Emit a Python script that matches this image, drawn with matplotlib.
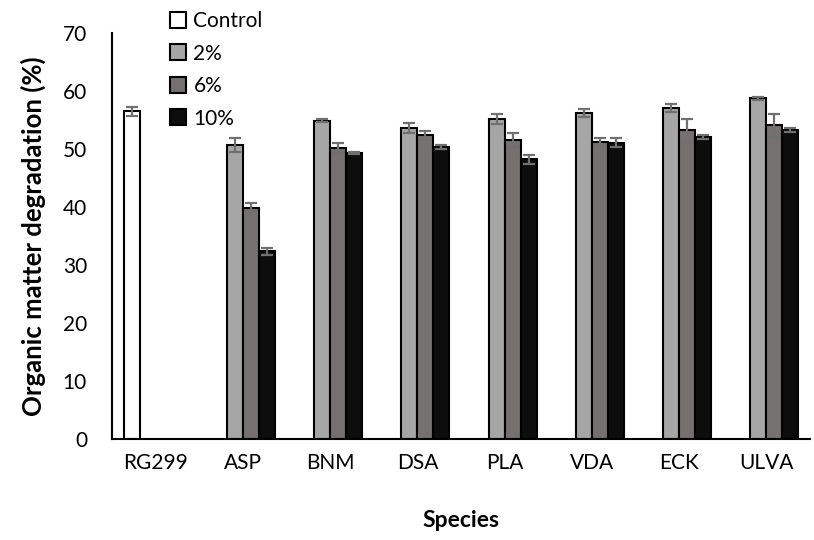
import numpy as np
import matplotlib.pyplot as plt

# Data
species = ['RG299', 'ASP', 'BNM', 'DSA', 'PLA', 'VDA', 'ECK', 'ULVA']
control = [56.5, np.nan, np.nan, np.nan, np.nan, np.nan, np.nan, np.nan]
control_err = [0.8, 0, 0, 0, 0, 0, 0, 0]
pct2 = [np.nan, 50.7, 54.9, 53.6, 55.2, 56.2, 57.0, 58.7]
pct2_err = [0, 1.2, 0.3, 0.8, 0.9, 0.7, 0.7, 0.3]
pct6 = [np.nan, 39.9, 50.2, 52.4, 51.5, 51.2, 53.2, 54.1]
pct6_err = [0, 0.7, 0.9, 0.7, 1.2, 0.7, 2.0, 2.0]
pct10 = [np.nan, 32.4, 49.3, 50.3, 48.2, 51.1, 52.1, 53.3]
pct10_err = [0, 0.6, 0.2, 0.3, 0.8, 0.8, 0.3, 0.3]

series = [('Control', control, control_err, 'white'),
          ('2%', pct2, pct2_err, '#a6a6a6'),
          ('6%', pct6, pct6_err, '#767171'),
          ('10%', pct10, pct10_err, '#0d0d0d')]

plt.rcParams['font.family'] = ['Lato', 'DejaVu Sans']

fig = plt.figure(figsize=(8.14, 5.40), dpi=100)
ax = fig.add_axes([0.1376, 0.187, 0.8575, 0.752])

x = np.arange(len(species))
w = 0.184
handles = []
for i, (name, vals, errs, col) in enumerate(series):
    pos = x + (i - 1.5) * w
    b = ax.bar(pos, vals, width=w, color=col, edgecolor='black', linewidth=1.5,
               label=name, zorder=2)
    handles.append(b)
    v = np.array(vals, dtype=float)
    m = ~np.isnan(v)
    ax.errorbar(pos[m], v[m], yerr=np.array(errs)[m], fmt='none', ecolor='#707070',
                elinewidth=1.6, capsize=4.5, capthick=1.6, zorder=3)

ax.set_xlim(-0.5, len(species) - 0.5)
ax.set_ylim(0, 70)
ax.set_yticks(range(0, 71, 10))
ax.set_xticks(x)
ax.set_xticklabels(species)
ax.tick_params(axis='both', length=0, labelsize=15, colors='black', pad=10)
ax.tick_params(axis='y', pad=18)
for s in ['top', 'right']:
    ax.spines[s].set_visible(False)
for s in ['left', 'bottom']:
    ax.spines[s].set_linewidth(1.5)

ax.set_ylabel('Organic matter degradation (%)', fontsize=18.5, fontweight='bold', labelpad=12)
ax.set_xlabel('Species', fontsize=16.5, fontweight='bold', labelpad=27)

fig.legend(handles=handles, loc='upper left', bbox_to_anchor=(0.198, 0.995),
           frameon=False, fontsize=15, handlelength=0.8, handleheight=0.8,
           handletextpad=0.35, labelspacing=0.6, borderaxespad=0)

fig.savefig('out.png', dpi=100)
